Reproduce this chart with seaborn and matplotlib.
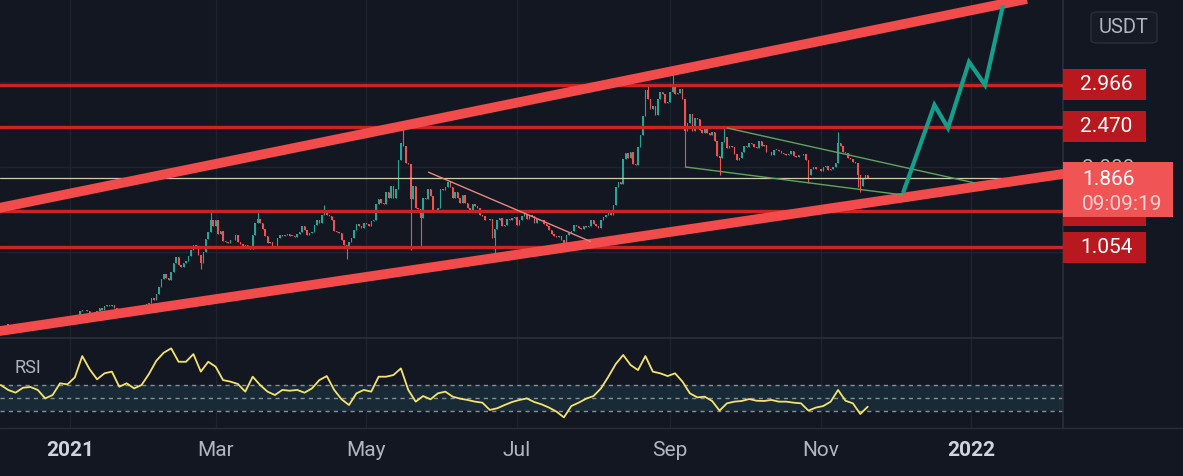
import matplotlib
matplotlib.use("Agg")
import matplotlib.pyplot as plt
import matplotlib.dates as mdates
from matplotlib.lines import Line2D
from matplotlib.patches import Rectangle, FancyBboxPatch
from matplotlib.transforms import blended_transform_factory
import pandas as pd
import seaborn as sns

# daily closes (ADA/USDT, Dec 4 2020 -> Nov 20 2021)
close_dec20 = [0.150, 0.152, 0.148, 0.145, 0.140, 0.142, 0.138, 0.136, 0.141, 0.145,
               0.147, 0.152, 0.160, 0.168, 0.172, 0.168, 0.165, 0.158, 0.150, 0.141,
               0.135, 0.146, 0.160, 0.170, 0.178, 0.174, 0.178, 0.181]
close_jan = [0.180, 0.205, 0.225, 0.262, 0.305, 0.318, 0.315, 0.310, 0.280, 0.265,
             0.292, 0.300, 0.335, 0.312, 0.360, 0.372, 0.370, 0.372, 0.345, 0.300,
             0.320, 0.330, 0.345, 0.335, 0.332, 0.305, 0.318, 0.330, 0.355, 0.352, 0.362]
close_feb = [0.392, 0.398, 0.455, 0.440, 0.505, 0.585, 0.680, 0.735, 0.690, 0.670,
             0.760, 0.870, 0.945, 0.850, 0.820, 0.870, 0.890, 0.950, 1.020, 1.080,
             1.060, 0.960, 0.870, 1.000, 1.150, 1.230, 1.370, 1.300]
close_mar = [1.380, 1.210, 1.250, 1.130, 1.120, 1.110, 1.140, 1.140, 1.200, 1.120,
             1.090, 1.050, 1.080, 1.060, 1.030, 1.200, 1.340, 1.390, 1.340, 1.270,
             1.190, 1.110, 1.120, 1.070, 1.060, 1.160, 1.200, 1.190, 1.200, 1.210, 1.190]
close_apr = [1.190, 1.180, 1.210, 1.240, 1.300, 1.260, 1.200, 1.220, 1.230, 1.320,
             1.380, 1.340, 1.440, 1.480, 1.430, 1.420, 1.370, 1.250, 1.230, 1.220,
             1.140, 1.080, 1.060, 1.120, 1.160, 1.260, 1.330, 1.300, 1.280, 1.340]
close_may = [1.330, 1.300, 1.360, 1.380, 1.560, 1.620, 1.580, 1.560, 1.700, 1.640,
             1.780, 1.630, 1.740, 2.080, 2.280, 2.250, 2.050, 2.040, 1.620, 1.780,
             1.520, 1.500, 1.400, 1.640, 1.620, 1.740, 1.660, 1.480, 1.470, 1.520, 1.740]
close_jun = [1.730, 1.760, 1.820, 1.760, 1.640, 1.700, 1.630, 1.570, 1.670, 1.570,
             1.520, 1.470, 1.560, 1.540, 1.520, 1.440, 1.420, 1.380, 1.370, 1.390,
             1.160, 1.270, 1.380, 1.400, 1.310, 1.320, 1.390, 1.370, 1.400, 1.410]
close_jul = [1.320, 1.380, 1.420, 1.450, 1.390, 1.430, 1.420, 1.340, 1.390, 1.380,
             1.370, 1.330, 1.310, 1.260, 1.210, 1.190, 1.180, 1.190, 1.140, 1.060,
             1.200, 1.220, 1.250, 1.320, 1.300, 1.280, 1.270, 1.300, 1.290, 1.310, 1.380]
close_aug = [1.330, 1.310, 1.280, 1.380, 1.410, 1.440, 1.480, 1.430, 1.550, 1.760,
             1.820, 1.800, 2.090, 2.160, 2.100, 2.180, 2.040, 2.020, 2.230, 2.380,
             2.600, 2.900, 2.800, 2.680, 2.720, 2.610, 2.800, 2.880, 2.860, 2.750, 2.760]
close_sep = [2.880, 2.960, 2.860, 2.870, 2.920, 2.800, 2.420, 2.520, 2.620, 2.420,
             2.580, 2.560, 2.430, 2.400, 2.470, 2.400, 2.380, 2.410, 2.300, 2.130,
             2.110, 2.290, 2.350, 2.220, 2.250, 2.240, 2.150, 2.080, 2.110, 2.180]
close_oct = [2.250, 2.230, 2.280, 2.270, 2.230, 2.220, 2.300, 2.250, 2.260, 2.170,
             2.170, 2.140, 2.200, 2.200, 2.190, 2.160, 2.150, 2.140, 2.150, 2.190,
             2.130, 2.120, 2.140, 2.140, 2.150, 2.080, 1.910, 1.970, 2.000, 1.980, 1.970]
close_nov = [1.950, 2.000, 2.010, 1.960, 1.970, 2.000, 2.050, 2.280, 2.250, 2.170,
             2.160, 2.100, 2.090, 2.060, 2.050, 1.900, 1.780, 1.860, 1.900, 1.866]

# long wicks that stand out
wick_highs = {"2021-02-27": 1.48, "2021-03-18": 1.48, "2021-04-14": 1.55,
              "2021-05-16": 2.45, "2021-08-23": 2.97, "2021-09-02": 3.10,
              "2021-09-23": 2.46, "2021-11-08": 2.41}
wick_lows = {"2021-02-23": 0.80, "2021-04-23": 0.92, "2021-05-19": 1.02,
             "2021-05-23": 1.07, "2021-06-22": 0.99, "2021-07-20": 1.02,
             "2021-09-07": 2.00, "2021-09-21": 1.90, "2021-10-27": 1.81,
             "2021-11-16": 1.76, "2021-11-17": 1.71}

# RSI pane, one reading every 3 days from Dec 4 2020
rsi_values = [60.0, 56.2, 54.1, 57.9, 58.5, 56.2, 49.7, 52.3, 61.3, 60.5,
              65.9, 82.3, 72.1, 64.4, 69.0, 70.3, 58.7, 61.3, 57.4, 60.0,
              68.5, 78.7, 84.9, 88.2, 77.9, 77.9, 83.8, 70.3, 77.9, 74.1,
              63.8, 62.6, 60.8, 54.9, 66.4, 60.0, 54.9, 52.3, 56.2, 55.6,
              56.2, 54.1, 57.4, 63.8, 66.9, 56.2, 49.0, 44.6, 53.6, 56.2,
              54.9, 66.4, 66.4, 67.7, 72.8, 56.2, 47.2, 51.5, 49.0, 53.6,
              54.9, 51.0, 49.5, 48.5, 47.2, 46.4, 40.8, 42.1, 44.6, 46.9,
              48.5, 49.7, 46.9, 45.1, 42.6, 39.5, 35.1, 43.8, 46.4, 49.5,
              51.5, 57.4, 66.4, 76.2, 83.1, 75.4, 71.5, 82.3, 70.3, 69.0,
              66.9, 69.0, 62.6, 53.6, 50.5, 51.0, 47.7, 40.3, 45.9, 47.2,
              47.7, 49.2, 47.9, 47.7, 48.5, 47.2, 47.2, 46.4, 45.9, 40.3,
              42.6, 43.8, 47.2, 56.2, 47.9, 45.9, 37.7, 43.3]
rsi_bands = [60, 50, 40]

# drawn levels and trend lines
level_prices = [2.966, 2.470, 1.482, 1.054]
level_labels = ["2.966", "2.470", "", "1.054"]
last_price = 1.866
last_time = "09:09:19"
channel_upper = (["2020-12-02", "2022-01-26"], [1.51, 3.99])
channel_lower = (["2020-12-02", "2022-02-10"], [0.063, 1.93])
down_trend = (["2021-05-26", "2021-07-31"], [1.94, 1.12])
wedge_upper = (["2021-09-24", "2022-01-02 10:00"], [2.458, 1.811])
wedge_lower = (["2021-09-07", "2021-12-04 08:00"], [2.00, 1.67])
forecast = (["2021-12-04 07:00", "2021-12-17", "2021-12-22 12:00",
             "2021-12-31", "2022-01-06 12:00", "2022-01-13 19:00"],
            [1.693, 2.728, 2.458, 3.234, 2.963, 3.904])

tick_dates = ["2021-01-01", "2021-03-01", "2021-05-01", "2021-07-01",
              "2021-09-01", "2021-11-01", "2022-01-01"]
tick_labels = ["2021", "Mar", "May", "Jul", "Sep", "Nov", "2022"]

BG = "#131722"
GRID = "#1f2330"
BORDER = "#2a2e39"
TXT = "#b2b5be"
UP = "#26a69a"
DOWN = "#ef5350"

sns.set_theme(style="dark")
plt.rcParams["font.family"] = ["Roboto", "DejaVu Sans"]

close = (close_dec20 + close_jan + close_feb + close_mar + close_apr + close_may
         + close_jun + close_jul + close_aug + close_sep + close_oct + close_nov)
dates = pd.date_range("2020-12-04", periods=len(close), freq="D")
df = pd.DataFrame({"close": close}, index=dates)
df["open"] = df["close"].shift(1).fillna(df["close"].iloc[0])
df["high"] = df[["open", "close"]].max(axis=1)
df["low"] = df[["open", "close"]].min(axis=1)
for d, v in wick_highs.items():
    df.loc[pd.Timestamp(d), "high"] = v
for d, v in wick_lows.items():
    df.loc[pd.Timestamp(d), "low"] = v
up = df["close"] >= df["open"]
body = (df["close"] - df["open"]).abs().clip(lower=0.006)
bottom = df[["open", "close"]].min(axis=1)

fig = plt.figure(figsize=(11.83, 4.76), dpi=100, facecolor=BG)
ax = fig.add_axes([0, 1 - 338 / 476, 1063 / 1183, 338 / 476])
ax_rsi = fig.add_axes([0, 48 / 476, 1063 / 1183, 90 / 476], sharex=ax)
for a in (ax, ax_rsi):
    a.set_facecolor(BG)
    for s in a.spines.values():
        s.set_visible(False)
    a.spines["right"].set_visible(True)
    a.spines["right"].set_color(BORDER)
ax_rsi.spines["top"].set_visible(True)
ax_rsi.spines["top"].set_color(BORDER)

# candles
ax.vlines(df.index, df["low"], df["high"],
          colors=[UP if u else DOWN for u in up], lw=0.8, zorder=2)
ax.bar(df.index[up], body[up], bottom=bottom[up], width=0.6, color=UP, lw=0, zorder=2)
ax.bar(df.index[~up], body[~up], bottom=bottom[~up], width=0.6, color=DOWN, lw=0, zorder=2)

# grid
for p in [1, 2, 3]:
    ax.axhline(p, color=GRID, lw=1, zorder=0)
for t in tick_dates:
    ax.axvline(pd.Timestamp(t), color=GRID, lw=1, zorder=0)
    ax_rsi.axvline(pd.Timestamp(t), color=GRID, lw=1, zorder=0)

# levels and drawings
ax.axhline(last_price, color="#cfcbb5", lw=0.9, zorder=2.5)
for p in level_prices:
    ax.axhline(p, color="#cc2229", lw=2.4, zorder=3)


def trend(line, **kw):
    ax.plot(pd.to_datetime(line[0], format="ISO8601"), line[1],
            solid_capstyle="butt", **kw)


trend(channel_upper, color="#f24b4b", lw=7, zorder=4)
trend(channel_lower, color="#f24b4b", lw=7, zorder=4)
trend(down_trend, color="#e8877f", lw=1, zorder=4)
trend(wedge_upper, color="#5fa35f", lw=1, zorder=4)
trend(wedge_lower, color="#5fa35f", lw=1, zorder=4)
trend(forecast, color="#12a08c", lw=3, solid_joinstyle="miter", zorder=5)

left = mdates.date2num(pd.Timestamp("2020-12-04")) - 0.3
ax.set_xlim(left, left + 1063 / 2.47)
ax.set_ylim(-0.012, 3.963)

# only the 2.000 scale label peeks out above the last-price tag
ax.yaxis.tick_right()
ax.set_yticks([2])
ax.set_yticklabels(["2.000"])
ax.tick_params(axis="y", length=0, pad=14, labelsize=15, labelcolor=TXT)
ax.tick_params(axis="x", length=0, labelbottom=False)

# price tags on the right scale
trans = blended_transform_factory(ax.transAxes, ax.transData)
ppx = 3.975 / 338
for p, lab in zip(level_prices, level_labels):
    ax.add_patch(Rectangle((1.0, p - 15.5 * ppx), 83 / 1063, 31 * ppx,
                           transform=trans, facecolor="#b8191e", lw=0,
                           clip_on=False, zorder=6))
    if lab:
        ax.text(1106 / 1063, p, lab, transform=trans, ha="center", va="center",
                color="white", fontsize=15, clip_on=False, zorder=7)
ax.add_patch(Rectangle((1.0, last_price - 39 * ppx), 110 / 1063, 55 * ppx,
                       transform=trans, facecolor="#f05454", lw=0,
                       clip_on=False, zorder=8))
ax.text(1082 / 1063, last_price - 1.5 * ppx, f"{last_price:.3f}", transform=trans,
        ha="left", va="center", color="white", fontsize=15, clip_on=False, zorder=9)
ax.text(1082 / 1063, last_price - 26.5 * ppx, last_time, transform=trans,
        ha="left", va="center", color="#fcd2d2", fontsize=15, clip_on=False, zorder=9)

fig.add_artist(FancyBboxPatch((1091 / 1183, 1 - 43 / 476), 66 / 1183, 31 / 476,
                              boxstyle="round,pad=0,rounding_size=0.006",
                              transform=fig.transFigure, facecolor="#171b26",
                              edgecolor=BORDER, lw=1))
fig.text(1124 / 1183, 1 - 27.5 / 476, "USDT", ha="center", va="center",
         color=TXT, fontsize=14.5)

# RSI pane
ax_rsi.axhspan(rsi_bands[-1], rsi_bands[0], color="#182a36", lw=0, zorder=0.5)
for b in rsi_bands:
    ax_rsi.axhline(b, color="#8a8d96", lw=1, ls=(0, (3, 3)), zorder=1)
rsi_dates = pd.date_range("2020-12-04", periods=len(rsi_values), freq="3D")
sns.lineplot(x=rsi_dates, y=rsi_values, ax=ax_rsi, color="#f5e36b", lw=1.3, zorder=3)
ax_rsi.set_ylim(26.9, 96.2)
ax_rsi.set_yticks([])
ax_rsi.set_ylabel("")
ax_rsi.set_xlabel("")
ax_rsi.text(15 / 1063, 0.67, "RSI", transform=ax_rsi.transAxes, ha="left",
            va="center", color=TXT, fontsize=13)

ax_rsi.set_xticks([pd.Timestamp(t) for t in tick_dates])
ax_rsi.set_xticklabels(tick_labels)
ax_rsi.tick_params(axis="x", length=0, pad=9, labelsize=15, labelcolor=TXT)
for lab in ax_rsi.get_xticklabels():
    if lab.get_text().isdigit():
        lab.set_fontweight("bold")
        lab.set_color("#d1d4dc")

fig.add_artist(Line2D([0, 1], [48 / 476, 48 / 476], color=BORDER, lw=1,
                      transform=fig.transFigure))

fig.savefig("out.png", dpi=100, facecolor=BG)
